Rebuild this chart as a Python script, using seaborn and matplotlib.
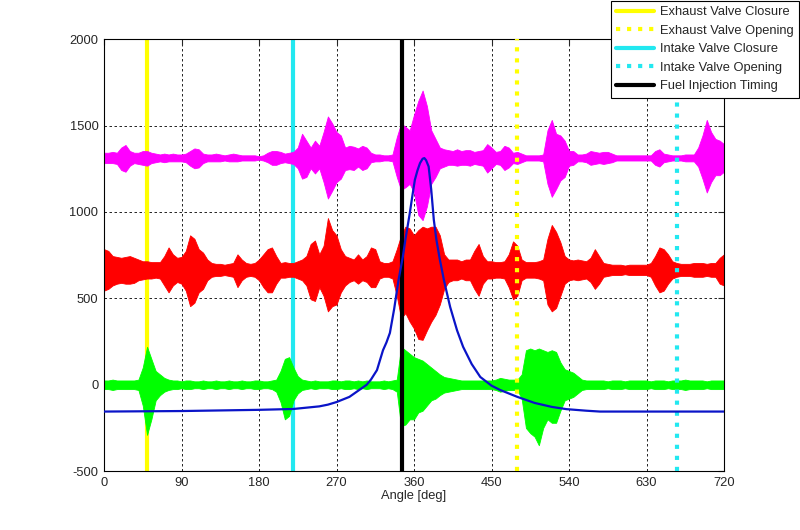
import numpy as np
import pandas as pd
import matplotlib
matplotlib.use("Agg")
import matplotlib.pyplot as plt
import seaborn as sns
from matplotlib.lines import Line2D

# sample angles of the envelope readings (every 5 deg, 0..720)
angle = np.arange(0, 721, 5)

# vibration signals: baseline + upper/lower envelope
mag_base = 1313
mag_up = [30, 30, 35, 30, 60, 75, 40, 30, 30, 40, 40, 30, 25, 20, 25, 20, 25, 20,
          20, 25, 40, 55, 50, 25, 20, 20, 25, 20, 15, 20, 25, 20, 15, 15, 15, 15,
          10, 15, 30, 40, 40, 35, 25, 30, 35, 60, 140, 100, 60, 100, 70, 150, 240, 200,
          150, 130, 60, 70, 65, 55, 70, 60, 30, 20, 20, 15, 15, 20, 120, 200, 180, 160,
          250, 330, 390, 300, 160, 110, 60, 50, 45, 40, 50, 40, 45, 45, 35, 40, 45, 80,
          60, 35, 40, 70, 60, 30, 35, 25, 15, 15, 15, 15, 20, 160, 220, 140, 130, 100,
          40, 40, 20, 20, 25, 40, 35, 30, 35, 35, 25, 15, 15, 15, 15, 15, 15, 15,
          15, 15, 40, 50, 25, 20, 15, 15, 15, 20, 20, 20, 60, 130, 220, 150, 110, 100,
          80]
mag_lo = [30, 30, 30, 35, 70, 80, 45, 30, 35, 40, 45, 30, 25, 20, 25, 20, 20, 20,
          20, 25, 45, 60, 55, 30, 20, 20, 20, 20, 15, 20, 20, 20, 15, 15, 15, 15,
          10, 15, 25, 40, 40, 30, 25, 30, 35, 60, 120, 110, 60, 90, 60, 140, 235, 190,
          140, 120, 70, 65, 70, 50, 70, 60, 25, 20, 20, 15, 15, 20, 110, 185, 170, 150,
          200, 330, 360, 280, 150, 110, 60, 50, 40, 40, 45, 40, 40, 45, 35, 40, 45, 85,
          60, 35, 40, 70, 55, 30, 35, 25, 15, 15, 15, 15, 20, 150, 225, 180, 130, 110,
          45, 40, 20, 20, 25, 40, 35, 30, 35, 30, 25, 15, 15, 15, 15, 15, 15, 15,
          15, 15, 40, 50, 25, 20, 15, 15, 15, 20, 20, 20, 50, 120, 200, 140, 100, 100,
          80]

red_base = 665
red_up = [120, 110, 80, 75, 70, 75, 80, 70, 60, 50, 50, 45, 45, 45, 80, 130, 90, 70,
          75, 110, 200, 180, 120, 100, 60, 40, 35, 35, 30, 35, 40, 90, 60, 40, 35, 40,
          60, 90, 120, 130, 80, 40, 45, 40, 40, 50, 60, 80, 150, 170, 90, 140, 300, 230,
          200, 120, 80, 70, 60, 90, 60, 80, 130, 120, 50, 40, 40, 50, 120, 200, 250, 240,
          200, 230, 250, 240, 250, 250, 200, 90, 60, 60, 60, 50, 60, 60, 110, 150, 80, 50,
          50, 45, 45, 50, 90, 165, 140, 60, 45, 45, 45, 50, 60, 180, 260, 220, 160, 80,
          60, 55, 60, 55, 50, 70, 120, 80, 40, 35, 30, 30, 30, 25, 30, 30, 30, 30,
          30, 40, 80, 130, 120, 90, 50, 40, 35, 35, 35, 40, 40, 40, 35, 40, 40, 70,
          90]
red_lo = [120, 110, 90, 80, 75, 80, 80, 75, 60, 55, 50, 50, 45, 50, 90, 130, 90, 70,
          80, 120, 210, 190, 130, 110, 60, 40, 35, 35, 30, 35, 40, 100, 60, 40, 35, 40,
          60, 100, 130, 130, 80, 45, 45, 40, 40, 50, 60, 90, 170, 180, 100, 150, 240, 210,
          200, 130, 90, 70, 60, 80, 60, 70, 100, 100, 50, 40, 40, 50, 150, 280, 250, 300,
          340, 400, 405, 350, 300, 260, 200, 110, 70, 60, 60, 50, 60, 60, 110, 150, 80, 50,
          50, 45, 45, 50, 100, 170, 150, 60, 45, 45, 45, 50, 60, 200, 240, 220, 150, 80,
          60, 55, 60, 55, 50, 70, 110, 80, 40, 35, 30, 30, 30, 25, 30, 30, 30, 30,
          30, 40, 90, 130, 120, 80, 50, 40, 35, 35, 35, 40, 40, 40, 35, 40, 40, 80,
          90]

grn_base = 0
grn_up = [25, 25, 30, 25, 25, 25, 25, 25, 30, 100, 220, 150, 80, 60, 40, 30, 25, 25,
          20, 25, 25, 20, 20, 25, 20, 20, 25, 20, 20, 25, 20, 20, 25, 20, 20, 25,
          25, 20, 20, 25, 30, 80, 150, 160, 100, 50, 30, 25, 20, 25, 20, 20, 20, 25,
          25, 20, 25, 25, 20, 25, 20, 25, 20, 20, 20, 25, 20, 25, 30, 220, 200, 180,
          160, 150, 140, 120, 100, 80, 60, 45, 40, 35, 30, 25, 25, 25, 25, 25, 25, 25,
          25, 30, 40, 35, 30, 30, 30, 60, 200, 210, 200, 210, 200, 190, 200, 190, 130, 90,
          80, 70, 50, 30, 25, 25, 25, 25, 25, 20, 25, 25, 25, 20, 25, 25, 25, 25,
          25, 20, 25, 25, 25, 20, 25, 25, 25, 30, 25, 25, 25, 25, 20, 25, 25, 25,
          25]
grn_lo = [25, 25, 30, 25, 25, 25, 25, 25, 30, 120, 290, 200, 90, 60, 40, 30, 25, 25,
          20, 25, 25, 20, 20, 25, 20, 20, 25, 20, 20, 25, 20, 20, 25, 20, 20, 25,
          25, 20, 20, 25, 40, 100, 200, 180, 90, 50, 30, 25, 20, 25, 20, 20, 20, 25,
          25, 20, 25, 25, 20, 25, 20, 25, 20, 20, 20, 25, 20, 25, 40, 240, 230, 200,
          200, 160, 150, 120, 90, 80, 60, 45, 40, 35, 30, 25, 25, 25, 25, 25, 25, 25,
          25, 30, 40, 35, 30, 30, 30, 80, 250, 280, 300, 350, 250, 200, 220, 220, 150, 90,
          80, 70, 50, 30, 25, 25, 25, 25, 25, 20, 25, 25, 25, 20, 25, 25, 25, 25,
          25, 20, 25, 25, 25, 20, 25, 25, 25, 30, 25, 25, 25, 25, 20, 25, 25, 25,
          25]

# cylinder pressure trace (blue)
p_angle = [0, 90, 180, 220, 250, 260, 270, 285, 295, 305, 310, 317, 324, 328, 332,
           337, 342, 347, 350, 355, 358, 361, 364, 367, 370, 372, 374, 377, 380, 383,
           386, 390, 395, 402, 410, 417, 427, 437, 450, 460, 480, 500, 520, 537, 560,
           576, 720]
p_value = [-155, -152, -145, -140, -125, -115, -100, -70, -35, 0, 30, 85, 200, 245, 300,
           440, 605, 740, 840, 990, 1090, 1186, 1240, 1283, 1308, 1312, 1300, 1263, 1130, 955,
           840, 725, 600, 450, 315, 220, 120, 45, -5, -30, -70, -105, -128, -141, -150,
           -155, -155]

# event markers
evc, evo = 50, 480
ivc, ivo = 220, 665
fit = 346

sns.set_style("white")
plt.rcParams['font.family'] = ['Liberation Sans', 'DejaVu Sans']
plt.rcParams['axes.unicode_minus'] = False

fig = plt.figure(figsize=(8, 5.3), dpi=100)
ax = fig.add_axes([0.13, 0.111, 0.775, 0.815])

ax.axvline(evc, color='#ffff00', lw=3, zorder=1.5)
ax.axvline(evo, color='#ffff00', lw=3, ls=':', zorder=3)
ax.axvline(ivc, color='#22e8f0', lw=3, zorder=1.5)
ax.axvline(ivo, color='#22e8f0', lw=3, ls=':', zorder=3)
ax.axvline(fit, color='black', lw=3, zorder=2.6)

for base, up, lo, col in [(mag_base, mag_up, mag_lo, '#ff00ff'),
                          (red_base, red_up, red_lo, '#ff0000'),
                          (grn_base, grn_up, grn_lo, '#00ff00')]:
    ax.fill_between(angle, base + np.array(up), base - np.array(lo),
                    color=col, lw=0.6, zorder=2)

pdf = pd.DataFrame({'angle': p_angle, 'pressure': p_value})
sns.lineplot(data=pdf, x='angle', y='pressure', color='#0a14c8', lw=1.6, ax=ax, zorder=4)

ax.set_xlim(0, 720)
ax.set_ylim(-500, 2000)
ax.set_xticks(np.arange(0, 721, 90))
ax.set_yticks(np.arange(-500, 2001, 500))
ax.grid(True, color='black', ls=(0, (3, 3)), lw=0.6)
ax.set_axisbelow(True)
ax.tick_params(direction='in', top=True, right=True, length=4, labelsize=9.3, pad=4)
for s in ax.spines.values():
    s.set_color('black')
    s.set_linewidth(0.8)
ax.set_xlabel('Angle [deg]', fontsize=9.3, labelpad=1)
ax.set_ylabel('')

handles = [Line2D([], [], color='#ffff00', lw=3),
           Line2D([], [], color='#ffff00', lw=3, ls=':'),
           Line2D([], [], color='#22e8f0', lw=3),
           Line2D([], [], color='#22e8f0', lw=3, ls=':'),
           Line2D([], [], color='black', lw=3)]
labels = ['Exhaust Valve Closure', 'Exhaust Valve Opening', 'Intake Valve Closure',
          'Intake Valve Opening', 'Fuel Injection Timing']
leg = ax.legend(handles, labels, loc='upper right', bbox_to_anchor=(0.999, 0.999),
                bbox_transform=fig.transFigure, fancybox=False, framealpha=1,
                edgecolor='black', fontsize=9.3, handlelength=2.9, labelspacing=0.5,
                borderpad=0.45, handletextpad=0.45, borderaxespad=0)
leg.get_frame().set_linewidth(0.8)

fig.savefig('out.png', dpi=100)
